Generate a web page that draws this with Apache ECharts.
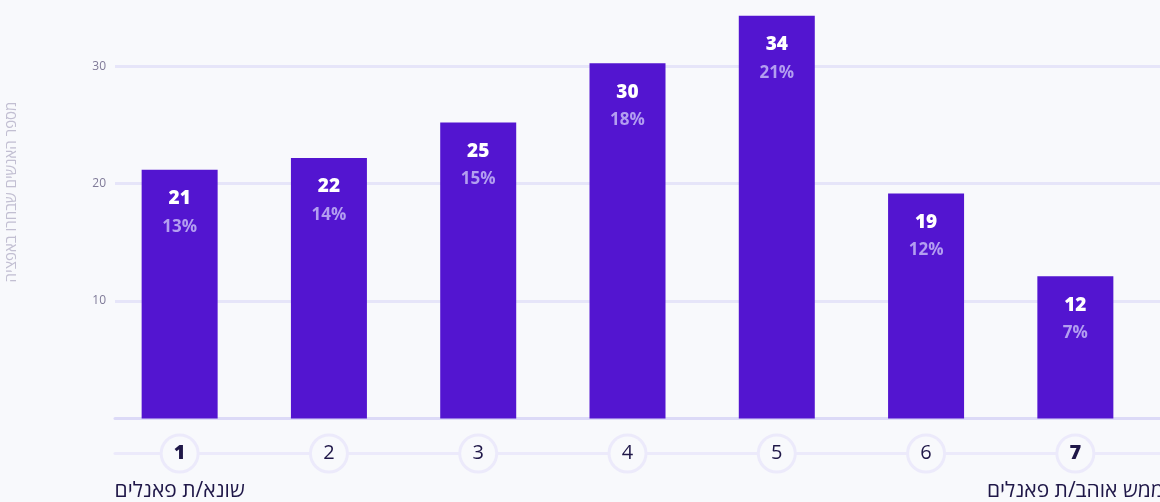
<!DOCTYPE html>
<html>
<head>
<meta charset="utf-8">
<script src="https://cdn.jsdelivr.net/npm/echarts@6/dist/echarts.min.js"></script>
<style>
html,body{margin:0;padding:0;background:#f8f9fc;}
#chart{width:1160px;height:502px;}
</style>
</head>
<body>
<div id="chart"></div>
<script>
const categories = ['1','2','3','4','5','6','7'];
const values = [21, 22, 25, 30, 34, 19, 12];
const percents = ['13%','14%','15%','18%','21%','12%','7%'];
const endLabels = {0: 'שונא/ת פאנלים', 6: 'ממש אוהב/ת פאנלים'};
const yAxisName = 'מספר האנשים שבחרו באפציה';
const yMin = 0, yMax = 35, yInterval = 10;
const barAxisMax = 34.7;

const FONT = "'Open Sans', 'Noto Sans', sans-serif";
const chart = echarts.init(document.getElementById('chart'));

const circleBase = {
  width: 34, height: 34, lineHeight: 34, align: 'center',
  borderRadius: 17, borderColor: '#eceafb', borderWidth: 3,
  backgroundColor: '#f8f9fc', fontSize: 20, color: '#1f1748', fontFamily: FONT
};

chart.setOption({
  backgroundColor: '#f8f9fc',
  textStyle: {fontFamily: FONT},
  grid: [
    {left: 115, right: 0, top: 7.5, bottom: 83.5, outerBoundsMode: 'none', containLabel: false},
    {left: 105, right: 10, top: 7.5, bottom: 83.5, outerBoundsMode: 'none', containLabel: false}
  ],
  xAxis: [
    {type: 'category', gridIndex: 0, data: categories, position: 'bottom',
     axisLine: {show: true, lineStyle: {color: '#dcdaf7', width: 3}},
     axisTick: {show: false}, axisLabel: {show: false}, splitLine: {show: false}},
    {type: 'category', gridIndex: 0, data: categories, position: 'bottom', offset: 35,
     axisLine: {show: true, lineStyle: {color: '#eceafb', width: 3}},
     axisTick: {show: false}, axisLabel: {show: false}, splitLine: {show: false}},
    {type: 'category', gridIndex: 1, data: categories, position: 'bottom',
     axisLine: {show: false}, axisTick: {show: false},
     axisLabel: {
       margin: 18, interval: 0,
       formatter: function (v, i) {
         const key = endLabels[i] !== undefined ? 'cb' : 'c';
         let s = '{' + key + '|' + v + '}';
         if (endLabels[i] !== undefined) s += '\n{s|' + endLabels[i] + '}';
         return s;
       },
       rich: {
         c: Object.assign({}, circleBase, {fontWeight: 400}),
         cb: Object.assign({}, circleBase, {fontWeight: 800}),
         s: {fontSize: 21, color: '#1f1748', lineHeight: 42, align: 'center', fontFamily: FONT}
       }
     }}
  ],
  yAxis: [
    {type: 'value', gridIndex: 0, min: yMin, max: yMax, interval: yInterval,
     name: yAxisName, nameLocation: 'middle', nameGap: 96, nameRotate: 90,
     nameTextStyle: {color: '#c2bfd2', fontSize: 15, fontFamily: FONT, padding: [0, 0, 0, 42]},
     axisLine: {show: false}, axisTick: {show: false},
     axisLabel: {margin: 9, fontSize: 12, fontFamily: FONT, showMinLabel: false, showMaxLabel: false,
       color: function (v) { return v === 10 ? '#2a2150' : '#7f7a98'; }},
     splitLine: {show: true, showMinLine: false, showMaxLine: false, lineStyle: {color: '#e6e5f9', width: 3}}},
    {type: 'value', gridIndex: 1, min: yMin, max: barAxisMax, show: false,
     splitLine: {show: false}}
  ],
  series: [{
    type: 'bar', xAxisIndex: 2, yAxisIndex: 1,
    data: values, barWidth: 76,
    itemStyle: {color: '#5315d0'},
    label: {
      show: true, position: 'insideTop', distance: 15,
      formatter: function (p) { return '{v|' + p.value + '}\n{p|' + percents[p.dataIndex] + '}'; },
      rich: {
        v: {fontSize: 19, fontWeight: 800, color: '#ffffff', lineHeight: 28, fontFamily: FONT},
        p: {fontSize: 17, fontWeight: 700, color: '#b39ef0', lineHeight: 28, fontFamily: FONT}
      }
    },
    silent: true
  }],
  animation: false
});
</script>
</body>
</html>
